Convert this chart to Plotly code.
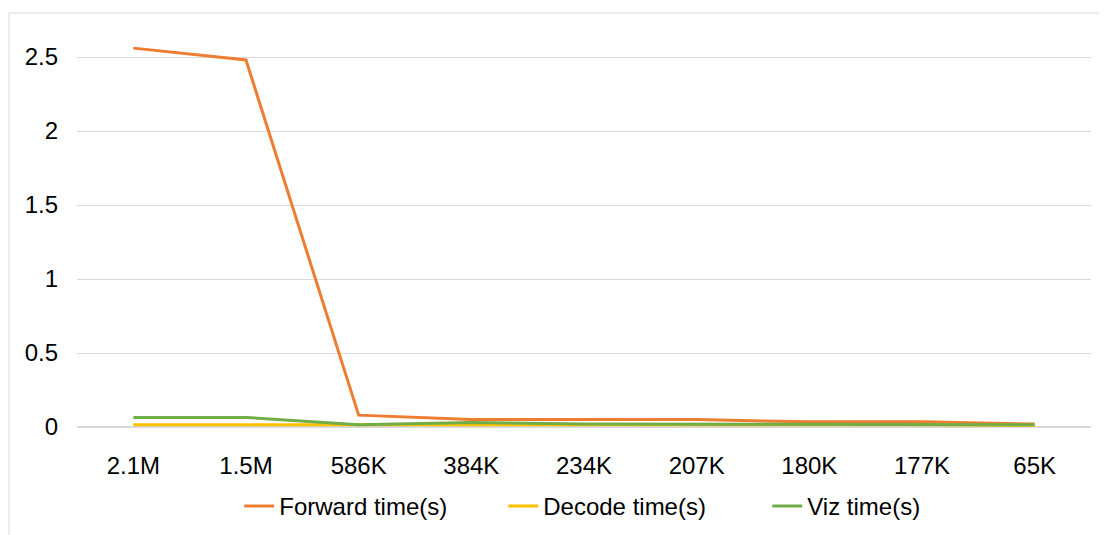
import plotly.graph_objects as go

categories = ["2.1M", "1.5M", "586K", "384K", "234K", "207K", "180K", "177K", "65K"]
forward_time = [2.56, 2.48, 0.08, 0.05, 0.05, 0.05, 0.035, 0.035, 0.02]
decode_time = [0.015, 0.015, 0.015, 0.02, 0.015, 0.015, 0.015, 0.015, 0.012]
viz_time = [0.065, 0.065, 0.015, 0.03, 0.02, 0.02, 0.02, 0.02, 0.015]

series = [
    ("Forward time(s)", forward_time, "#ED7D31"),
    ("Decode time(s)", decode_time, "#FFC000"),
    ("Viz time(s)", viz_time, "#70AD47"),
]

fig = go.Figure()
for name, vals, color in series:
    fig.add_trace(go.Scatter(x=categories, y=vals, mode="lines", name=name,
                             line=dict(color=color, width=3)))

font = dict(family="Liberation Sans, Arial, sans-serif", size=24, color="#000000")

fig.update_layout(
    width=1099, height=527,
    margin=dict(l=69, r=16, t=12, b=108, autoexpand=False),
    paper_bgcolor="white", plot_bgcolor="white",
    font=font,
    showlegend=True,
    legend=dict(orientation="h", x=0.16, xanchor="left", y=-0.14, yanchor="top",
                font=font, entrywidth=219, entrywidthmode="pixels", tracegroupgap=0),
    xaxis=dict(type="category", showgrid=False, showline=False, zeroline=False,
               ticks="", ticklabelstandoff=22, tickfont=font, range=[-0.5, 8.5],
               automargin=False),
    yaxis=dict(range=[0, 2.75], dtick=0.5, tick0=0, showgrid=True, gridcolor="#D9D9D9",
               gridwidth=1, zeroline=True, zerolinecolor="#D9D9D9", zerolinewidth=1.5,
               showline=False, ticks="", tickfont=font, ticklabelstandoff=18,
               tickformat="~g", automargin=False),
)

fig.add_shape(type="rect", xref="paper", yref="paper",
              x0=-0.067, x1=1.05, y0=-0.4, y1=1.0172,
              line=dict(color="#D9D9D9", width=1), fillcolor="rgba(0,0,0,0)", layer="below")

fig.write_html("out.html")
